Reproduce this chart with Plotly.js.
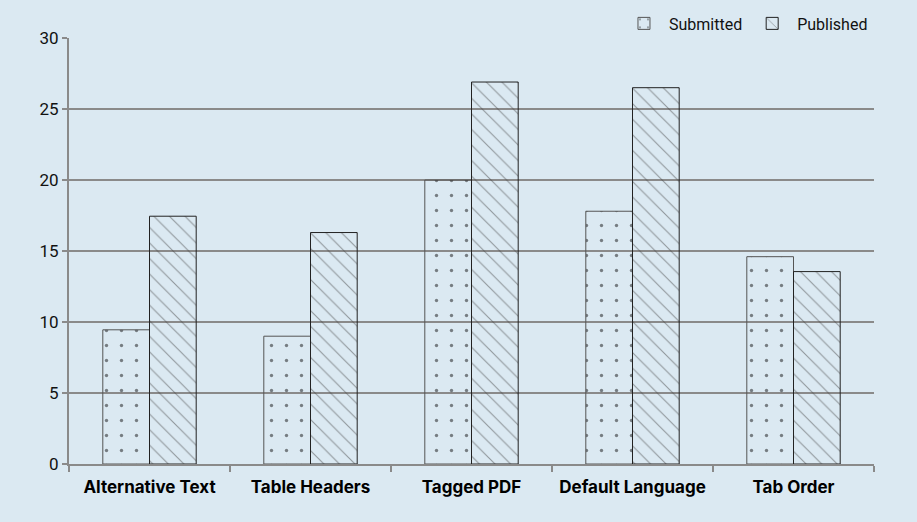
<!DOCTYPE html>
<html>
<head>
<meta charset="utf-8">
<script src="https://cdn.plot.ly/plotly-3.0.1.min.js"></script>
<style>
html,body{margin:0;padding:0;background:#dbe9f2;}
#chart{width:917px;height:522px;}
</style>
</head>
<body>
<div id="chart"></div>
<script>
const categories = ["Alternative Text", "Table Headers", "Tagged PDF", "Default Language", "Tab Order"];
const submitted = [9.45, 9.0, 20.0, 17.8, 14.6];
const published = [17.45, 16.3, 26.9, 26.5, 13.55];
const seriesNames = ["Submitted", "Published"];
const yTicks = [0, 5, 10, 15, 20, 25, 30];

const traces = [
  {
    type: "bar", name: seriesNames[0], x: categories, y: submitted,
    marker: {
      color: "rgba(0,0,0,0)",
      line: {color: "#555", width: 1},
      pattern: {shape: ".", size: 15, solidity: 0.04, fgcolor: "#111", bgcolor: "rgba(0,0,0,0)", fillmode: "overlay"}
    },
    hoverinfo: "skip"
  },
  {
    type: "bar", name: seriesNames[1], x: categories, y: published,
    marker: {
      color: "rgba(0,0,0,0)",
      line: {color: "#222", width: 1},
      pattern: {shape: "\\", size: 11, solidity: 0.1, fgcolor: "#444", fgopacity: 0.5, bgcolor: "rgba(0,0,0,0)", fillmode: "overlay"}
    },
    hoverinfo: "skip"
  }
];

const layout = {
  width: 917, height: 522,
  paper_bgcolor: "#dbe9f2",
  plot_bgcolor: "#dbe9f2",
  margin: {l: 69, r: 43, t: 38, b: 58, autoexpand: false},
  font: {family: "Roboto, 'Noto Sans', sans-serif", size: 16, color: "#111"},
  barmode: "group",
  bargap: 0.42,
  bargroupgap: 0,
  showlegend: true,
  legend: {
    orientation: "h", xref: "container", yref: "container",
    x: 0.952, xanchor: "right", y: 0.955, yanchor: "middle",
    bgcolor: "rgba(0,0,0,0)", font: {size: 16, color: "#111"},
    itemwidth: 40, traceorder: "normal"
  },
  xaxis: {
    type: "category", automargin: false,
    showline: true, linecolor: "#8a8a8a", linewidth: 2,
    ticks: "outside", tickson: "boundaries", ticklen: 6, tickcolor: "#8a8a8a", tickwidth: 2,
    ticklabelstandoff: 7,
    tickfont: {family: "Inter, Roboto, sans-serif", size: 17, weight: "bold", color: "#000"},
    showgrid: false, zeroline: false
  },
  yaxis: {
    range: [0, 30], tickvals: yTicks, ticktext: yTicks.map(String), automargin: false,
    showline: true, linecolor: "#8a8a8a", linewidth: 2,
    ticks: "outside", ticklen: 5, tickcolor: "#8a8a8a", tickwidth: 2,
    showgrid: true, gridcolor: "#8a8a8a", gridwidth: 2,
    zeroline: false,
    tickfont: {size: 17, color: "#111"}
  }
};

Plotly.newPlot("chart", traces, layout, {displayModeBar: false, staticPlot: true});
</script>
</body>
</html>
